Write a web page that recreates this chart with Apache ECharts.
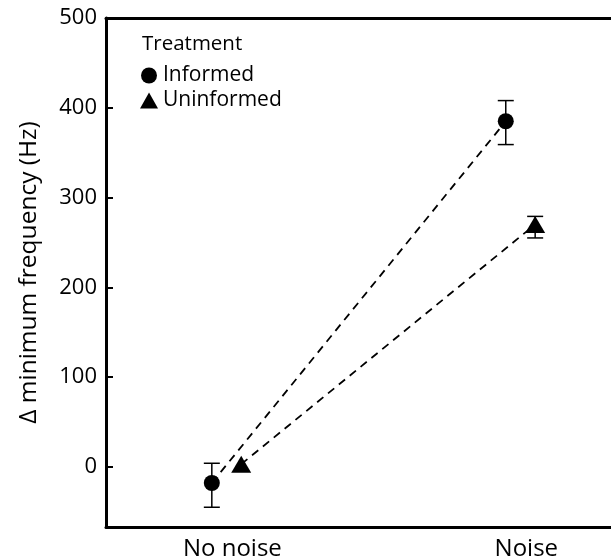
<!DOCTYPE html>
<html>
<head>
<meta charset="utf-8">
<script src="https://cdn.jsdelivr.net/npm/echarts@6/dist/echarts.min.js"></script>
<style>html,body{margin:0;padding:0;background:#fff}#c{width:611px;height:559px}</style>
</head>
<body>
<div id="c"></div>
<script>
// Data
var categories = ['No noise', 'Noise'];
var categoryPos = [0, 1];
var seriesNames = ['Informed', 'Uninformed'];
var informedMean = [-18, 385];
var informedLow = [-45, 359];
var informedHigh = [4, 408];
var uninformedMean = [3, 270];
var uninformedLow = [2, 255];
var uninformedHigh = [4, 279];
var yTicks = [0, 100, 200, 300, 400, 500];
var dodge = { Informed: -0.07, Uninformed: 0.03 };

var FONT = 'Open Sans';

function pts(name, mean) {
  return categoryPos.map(function (p, i) { return [p + dodge[name], mean[i]]; });
}
function errs(name, low, high) {
  return categoryPos.map(function (p, i) { return [p + dodge[name], low[i], high[i]]; });
}

function errRender(params, api) {
  var x = api.value(0);
  var lo = api.coord([x, api.value(1)]);
  var hi = api.coord([x, api.value(2)]);
  var cw = 8;
  if (Math.abs(lo[1] - hi[1]) < 6) { return null; }
  var style = { stroke: '#000', lineWidth: 1.5, fill: null };
  return {
    type: 'group',
    children: [
      { type: 'line', shape: { x1: lo[0], y1: lo[1], x2: hi[0], y2: hi[1] }, style: style },
      { type: 'line', shape: { x1: lo[0] - cw, y1: lo[1], x2: lo[0] + cw, y2: lo[1] }, style: style },
      { type: 'line', shape: { x1: hi[0] - cw, y1: hi[1], x2: hi[0] + cw, y2: hi[1] }, style: style }
    ]
  };
}

var chart = echarts.init(document.getElementById('c'), null, { renderer: 'canvas' });
var xMin = -0.43, xMax = 1.288;
chart.setOption({
  animation: false,
  backgroundColor: '#fff',
  textStyle: { fontFamily: FONT },
  title: {
    text: 'Treatment', left: 142, top: 34,
    textStyle: { fontFamily: FONT, fontSize: 20.5, fontWeight: 'normal', color: '#000' },
    padding: 0
  },
  legend: {
    orient: 'vertical', left: 140, top: 65, padding: 0,
    itemWidth: 18, itemHeight: 16, itemGap: 4,
    data: seriesNames,
    textStyle: { fontFamily: FONT, fontSize: 21, color: '#000' },
    selectedMode: false
  },
  grid: { left: 106, right: 0, top: 18, bottom: 32, containLabel: false, outerBoundsMode: 'none' },
  xAxis: [{
    type: 'value', min: xMin, max: xMax, position: 'bottom',
    axisLine: { show: true, onZero: false, lineStyle: { color: '#000', width: 3 } },
    axisTick: { show: false },
    splitLine: { show: false },
    axisLabel: {
      customValues: categoryPos,
      formatter: function (v) { var i = categoryPos.indexOf(v); return i >= 0 ? categories[i] : ''; },
      fontFamily: FONT, fontSize: 24, color: '#000', margin: 10
    }
  }, {
    type: 'value', min: xMin, max: xMax, position: 'top',
    axisLine: { show: true, onZero: false, lineStyle: { color: '#000', width: 3 } },
    axisTick: { show: false }, axisLabel: { show: false }, splitLine: { show: false }
  }],
  yAxis: {
    type: 'value', min: -67, max: 500,
    name: 'Δ minimum frequency (Hz)', nameLocation: 'middle', nameGap: 64,
    nameTextStyle: { fontFamily: FONT, fontSize: 24.5, color: '#000' },
    axisLine: { show: true, onZero: false, lineStyle: { color: '#000', width: 3 } },
    axisTick: { show: true, inside: true, length: 7, customValues: yTicks, lineStyle: { color: '#000', width: 2 } },
    axisLabel: { customValues: yTicks, fontFamily: FONT, fontSize: 22, color: '#000', margin: 9 },
    splitLine: { show: false }
  },
  series: [
    {
      name: 'Informed-line', type: 'line', data: pts('Informed', informedMean),
      symbol: 'none', lineStyle: { color: '#000', width: 1.8, type: [8, 6] }, z: 1, silent: true
    },
    {
      name: 'Uninformed-line', type: 'line', data: pts('Uninformed', uninformedMean),
      symbol: 'none', lineStyle: { color: '#000', width: 1.8, type: [8, 6] }, z: 1, silent: true
    },
    { type: 'custom', renderItem: errRender, data: errs('Informed', informedLow, informedHigh), z: 2, silent: true },
    { type: 'custom', renderItem: errRender, data: errs('Uninformed', uninformedLow, uninformedHigh), z: 2, silent: true },
    {
      name: 'Informed', type: 'scatter', data: pts('Informed', informedMean),
      symbol: 'circle', symbolSize: 16, itemStyle: { color: '#000', opacity: 1 }, z: 3
    },
    {
      name: 'Uninformed', type: 'scatter', data: pts('Uninformed', uninformedMean),
      symbol: 'triangle', symbolSize: [20, 17], itemStyle: { color: '#000', opacity: 1 }, z: 3
    }
  ]
});
</script>
</body>
</html>
